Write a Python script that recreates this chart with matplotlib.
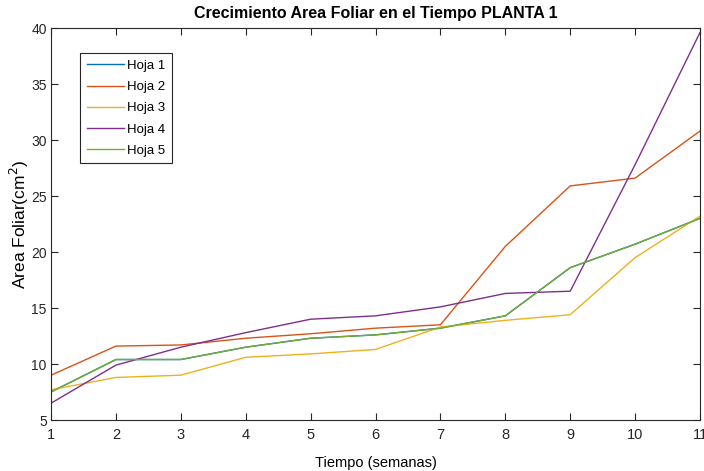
import matplotlib
matplotlib.use('Agg')
import matplotlib.pyplot as plt

plt.rcParams['font.family'] = ['Liberation Sans', 'DejaVu Sans']

semanas = [1, 2, 3, 4, 5, 6, 7, 8, 9, 10, 11]
hoja1 = [7.5, 10.4, 10.4, 11.5, 12.3, 12.6, 13.2, 14.3, 18.6, 20.7, 23.0]
hoja2 = [9.0, 11.6, 11.7, 12.3, 12.7, 13.2, 13.5, 20.5, 25.9, 26.6, 30.8]
hoja3 = [7.7, 8.8, 9.0, 10.6, 10.9, 11.3, 13.3, 13.9, 14.4, 19.5, 23.2]
hoja4 = [6.5, 9.9, 11.5, 12.8, 14.0, 14.3, 15.1, 16.3, 16.5, 27.8, 39.6]
hoja5 = [7.5, 10.4, 10.4, 11.5, 12.3, 12.6, 13.2, 14.3, 18.6, 20.7, 23.0]

colores = [(0, 0.447, 0.741), (0.85, 0.325, 0.098), (0.929, 0.694, 0.125),
           (0.494, 0.184, 0.556), (0.466, 0.674, 0.188)]
series = [hoja1, hoja2, hoja3, hoja4, hoja5]
nombres = ['Hoja 1', 'Hoja 2', 'Hoja 3', 'Hoja 4', 'Hoja 5']

fig = plt.figure(figsize=(7.04, 4.71), dpi=100)
ax = fig.add_axes([51/704, 1 - 420/471, 649/704, 392/471])

for s, c, n in zip(series, colores, nombres):
    ax.plot(semanas, s, color=c, linewidth=1.0, label=n)

ax.set_xlim(1, 11)
ax.set_ylim(5, 40)
ax.set_xticks(semanas)
ax.set_yticks(range(5, 41, 5))
ax.tick_params(direction='in', top=True, right=True, labelsize=10.5, colors='#262626', length=5)
ax.tick_params(axis='x', pad=6)
ax.tick_params(axis='y', labelsize=10, pad=3)
for sp in ax.spines.values():
    sp.set_color('#262626')
    sp.set_linewidth(0.8)

ax.set_title('Crecimiento Area Foliar en el Tiempo PLANTA 1', fontsize=11.5, fontweight='bold', pad=7)
ax.set_xlabel('Tiempo (semanas)', fontsize=10.5, labelpad=10)
ax.set_ylabel('Area Foliar(cm$^2$)', fontsize=12.5)
ax.yaxis.set_label_coords(-0.031, 0.5)

leg = ax.legend(loc='upper left', bbox_to_anchor=(0.045, 0.936), borderaxespad=0, fontsize=9.5,
                fancybox=False, edgecolor='#262626', framealpha=1,
                handlelength=2.8, handletextpad=0.25, labelspacing=0.68, borderpad=0.5)
leg.get_frame().set_linewidth(0.8)

fig.savefig('out.png', dpi=100)
